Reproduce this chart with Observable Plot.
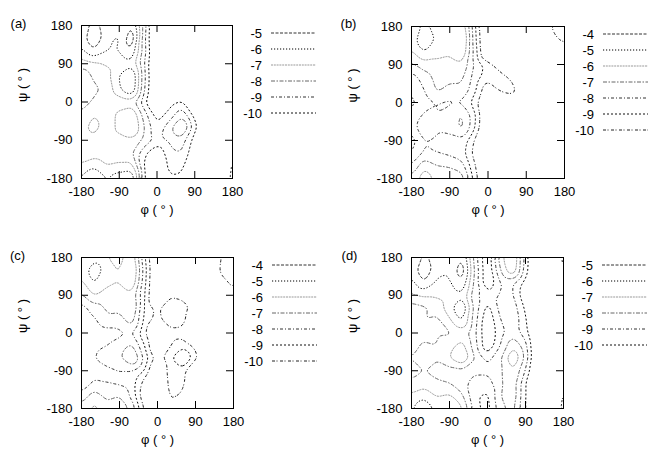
<!DOCTYPE html>
<html><head><meta charset="utf-8">
<script src="https://cdn.jsdelivr.net/npm/d3@7"></script>
<script src="https://cdn.jsdelivr.net/npm/@observablehq/plot@0.6"></script>
<style>
body{margin:0;background:#fff;}
#chart{position:relative;width:649px;height:456px;background:#fff;}
#chart svg{position:absolute;}
</style></head><body><div id="chart"></div>
<script>
// ---- data ----
const phiValues = [-180,-150,-120,-90,-60,-30,0,30,60,90,120,150,180];
const psiValues = [180,150,120,90,60,30,0,-30,-60,-90,-120,-150,-180];
const tickValues = [-180,-90,0,90,180];
const panelLabels = ["(a)","(b)","(c)","(d)"];
const xLabel = "φ ( ° )";
const yLabel = "ψ ( ° )";
const levelsA = [-5,-6,-7,-8,-9,-10];
const levelsB = [-4,-5,-6,-7,-8,-9,-10];
const levelsC = [-4,-5,-6,-7,-8,-9,-10];
const levelsD = [-5,-6,-7,-8,-9,-10];

// rows: psi 180 ... -180 ; columns: phi -180 ... 180
const gridA = [
 [-5.8,-4.5,-5.8,-5.6,-4.9,-8.6,-12,-12,-11.5,-12,-12,-12,-9.5],
 [-5.6,-4.0,-5.7,-6.2,-4.0,-8.8,-12,-12,-9.9,-12,-12,-12,-9.7],
 [-6.3,-5.1,-6.0,-6.0,-5.1,-8.6,-12,-12,-12,-12,-12,-12,-10.3],
 [-7.6,-7.2,-6.9,-6.6,-6.3,-9.0,-12,-12,-12,-12,-12,-12,-11],
 [-8.8,-7.8,-7.4,-5.9,-4.8,-8.8,-12,-12,-12,-12,-12,-12,-12],
 [-9.0,-8.2,-7.8,-6.1,-4.9,-9.0,-12,-12,-12,-12,-12,-12,-12],
 [-8.5,-7.8,-8.2,-7.8,-7.6,-9.8,-12,-10.5,-9.8,-12,-12,-12,-12],
 [-7.8,-7.0,-7.8,-6.6,-6.0,-8.5,-10.5,-9.6,-8.2,-10.5,-12,-12,-10.8],
 [-7.5,-6.4,-7.8,-6.6,-5.7,-8.0,-9.8,-8.3,-6.6,-9.6,-12,-12,-9.8],
 [-8.0,-7.5,-7.6,-7.6,-7.3,-8.3,-9.3,-8.8,-8.5,-10.5,-12,-12,-10.0],
 [-7.8,-7.5,-7.8,-7.5,-7.8,-9.8,-11,-9.2,-9.0,-11,-12,-12,-9.8],
 [-6.8,-6.2,-7.0,-6.8,-6.6,-10.2,-12,-9.5,-9.6,-12,-12,-12,-9.5],
 [-6.0,-4.8,-6.0,-5.3,-5.0,-10.0,-12,-10.2,-10.3,-12,-12,-12,-9.3]
];
const gridB = [
 [-6.0,-4.6,-5.8,-6.0,-5.2,-9.0,-12,-12,-12,-12,-12,-9.8,-9.2],
 [-5.8,-3.8,-5.3,-5.8,-4.6,-8.8,-12,-12,-12,-12,-12,-10.5,-9.5],
 [-6.2,-5.0,-5.6,-5.8,-5.0,-8.5,-12,-12,-12,-12,-12,-12,-11],
 [-7.2,-6.4,-6.3,-6.5,-6.2,-8.2,-9.4,-11,-12,-12,-12,-12,-12],
 [-8.5,-7.5,-6.6,-6.8,-6.8,-8.5,-9.5,-9.4,-10.5,-12,-12,-12,-12],
 [-9.0,-8.0,-6.8,-7.2,-7.2,-8.8,-11,-9.6,-9.5,-12,-12,-12,-12],
 [-9.3,-8.5,-8.0,-8.2,-8.2,-9.5,-12,-12,-11,-12,-12,-12,-12],
 [-9.0,-7.8,-8.0,-7.5,-6.8,-8.8,-12,-12,-12,-12,-12,-12,-12],
 [-8.8,-6.8,-7.8,-7.5,-6.7,-9.0,-12,-12,-12,-12,-12,-12,-12],
 [-9.5,-8.0,-8.3,-8.5,-8.3,-10.2,-12,-12,-12,-12,-12,-12,-12],
 [-9.2,-7.8,-8.0,-8.2,-8.6,-10.5,-12,-12,-12,-12,-12,-12,-12],
 [-8.0,-6.2,-7.0,-7.2,-7.6,-10.0,-12,-12,-12,-12,-12,-12,-10.3],
 [-6.8,-5.3,-6.3,-5.8,-6.5,-9.5,-12,-12,-12,-12,-12,-12,-9.4]
];
const gridC = [
 [-6.2,-5.4,-6.0,-6.4,-5.2,-9.0,-12,-12,-12,-12,-12,-9.9,-9.3],
 [-5.9,-4.1,-5.6,-6.1,-4.6,-8.6,-12,-12,-12,-12,-12,-9.7,-9.3],
 [-6.3,-4.9,-5.8,-6.0,-5.0,-8.8,-12,-12,-12,-12,-12,-10.5,-9.7],
 [-7.2,-5.9,-6.4,-6.8,-6.3,-9.0,-12,-10.2,-10.5,-12,-12,-12,-10.2],
 [-8.5,-7.5,-6.8,-6.8,-5.9,-9.2,-10.3,-8.9,-9.3,-10.6,-12,-12,-12],
 [-8.8,-8.2,-7.2,-7.4,-6.5,-9.4,-10.4,-9.2,-9.4,-12,-12,-12,-12],
 [-9.0,-8.8,-8.5,-8.3,-8.0,-9.9,-12,-10.5,-10.6,-12,-12,-12,-12],
 [-8.8,-8.2,-8.0,-7.6,-6.8,-9.0,-12,-10.0,-9.3,-10.4,-12,-12,-12],
 [-8.8,-8.0,-7.6,-7.2,-5.7,-8.3,-10.5,-9.2,-7.6,-9.6,-12,-12,-12],
 [-9.0,-8.4,-8.2,-8.0,-8.0,-9.0,-12,-9.3,-9.4,-12,-12,-12,-12],
 [-8.8,-7.8,-8.0,-8.2,-8.5,-10.5,-12,-9.5,-9.6,-12,-12,-12,-12],
 [-7.6,-6.4,-7.3,-7.0,-8.3,-11,-12,-9.8,-10.2,-12,-12,-12,-10.3],
 [-6.6,-5.6,-6.6,-6.2,-7.3,-10.2,-12,-10.4,-11,-12,-12,-12,-9.4]
];
const gridD = [
 [-6.2,-4.7,-5.8,-6.0,-4.9,-8.5,-11,-7.4,-5.8,-9.5,-12,-12,-9.4],
 [-5.7,-4.1,-5.7,-5.9,-4.2,-8.2,-11,-8.0,-6.0,-9.6,-12,-12,-9.6],
 [-6.4,-5.0,-6.2,-6.2,-5.1,-8.4,-11,-9.0,-8.8,-10.5,-12,-12,-10.0],
 [-7.2,-6.8,-6.8,-6.6,-6.2,-8.8,-9.6,-8.8,-8.8,-11,-12,-12,-10.8],
 [-8.5,-8.2,-7.6,-6.4,-4.8,-8.4,-10.5,-8.6,-8.4,-10.2,-12,-12,-12],
 [-8.8,-8.0,-8.3,-7.2,-5.8,-8.6,-11,-9.0,-8.2,-9.8,-12,-12,-12],
 [-8.6,-8.4,-8.1,-8.2,-7.6,-8.8,-11,-9.4,-8.4,-9.5,-12,-12,-12],
 [-8.4,-7.8,-8.0,-7.4,-6.6,-8.6,-11,-9.0,-7.2,-8.6,-12,-12,-12],
 [-8.0,-7.4,-7.9,-7.0,-5.8,-8.0,-9.4,-8.2,-5.9,-8.2,-12,-12,-12],
 [-8.4,-8.0,-8.4,-8.4,-8.3,-8.8,-8.8,-8.2,-7.0,-9.0,-12,-12,-12],
 [-7.8,-7.4,-7.8,-8.0,-8.6,-9.4,-9.4,-8.2,-7.3,-10.0,-12,-12,-10.4],
 [-6.8,-6.3,-7.1,-6.8,-7.8,-9.8,-10.3,-8.0,-7.2,-10.0,-12,-12,-9.5],
 [-6.2,-5.0,-6.3,-5.8,-6.8,-9.5,-10.5,-8.4,-7.6,-10,-12,-12,-9.3]
];

// ---- styles & layout ----
const lineStyles = [
 {stroke:"#333", dash:"3,1.5"},
 {stroke:"#000", dash:"1.2,1.8"},
 {stroke:"#999", dash:"2,0.8"},
 {stroke:"#666", dash:"4,1.5,1.5,1.5"},
 {stroke:"#333", dash:"3,2,1,2"},
 {stroke:"#111", dash:"2,2"},
 {stroke:"#222", dash:"3,1.5,1,2.5"}
];
const fontFamily = "'Liberation Sans', Arial, Helvetica, sans-serif";
const panels = [
 {grid:gridA, levels:levelsA, left:0,   top:0,   mL:81, mT:25, mR:92, mB:50, lx:-63, ly:-7},
 {grid:gridB, levels:levelsB, left:325, top:0,   mL:86, mT:26, mR:85, mB:50, lx:-63, ly:-8},
 {grid:gridC, levels:levelsC, left:0,   top:228, mL:81, mT:29, mR:91, mB:48, lx:-64, ly:-7},
 {grid:gridD, levels:levelsD, left:325, top:228, mL:86, mT:29, mR:86, mB:48, lx:-62, ly:-7}
];
const W = 324, H = 228;

function toPoints(grid){
  const pts = [];
  grid.forEach((row,i)=>row.forEach((v,j)=>pts.push({phi:phiValues[j], psi:psiValues[i], v})));
  return pts;
}

const chart = document.getElementById("chart");
panels.forEach((P, k) => {
  const fw = W - P.mL - P.mR, fh = H - P.mT - P.mB;
  const pts = toPoints(P.grid);
  const contours = P.levels.map((t,i) => Plot.contour(pts, {
    x:"phi", y:"psi", value:"v", thresholds:[t],
    interpolate:"barycentric", blur:1,
    fill:"none", stroke:lineStyles[i].stroke, strokeDasharray:lineStyles[i].dash, strokeWidth:1
  }));
  const svg = Plot.plot({
    width: W, height: H,
    marginLeft: P.mL, marginRight: P.mR, marginTop: P.mT, marginBottom: P.mB,
    style: {fontFamily, fontSize:"13px", background:"transparent", color:"black", overflow:"visible"},
    x: {domain:[-180,180]},
    y: {domain:[-180,180]},
    marks: [
      ...contours,
      Plot.frame({stroke:"black"}),
      Plot.tickX(tickValues, {x:d=>d, insetTop: fh-7, stroke:"black"}),
      Plot.tickX(tickValues, {x:d=>d, insetBottom: fh-7, stroke:"black"}),
      Plot.tickY(tickValues, {y:d=>d, insetRight: fw-7, stroke:"black"}),
      Plot.tickY(tickValues, {y:d=>d, insetLeft: fw-7, stroke:"black"}),
      Plot.axisX({ticks:tickValues, tickSize:0, tickPadding:8, tickFormat:d=>String(d), label:null, fontSize:13}),
      Plot.axisY({ticks:tickValues, tickSize:0, tickPadding:9, tickFormat:d=>String(d), label:null, fontSize:13}),
      Plot.text([xLabel], {frameAnchor:"bottom", dy:35, text:d=>d, fontSize:13}),
      Plot.text([yLabel], {frameAnchor:"left", dx:-59, rotate:-90, text:d=>d, fontSize:13}),
      Plot.text([panelLabels[k]], {frameAnchor:"top-left", dx:P.lx, dy:P.ly, text:d=>d, fontSize:13, textAnchor:"middle"})
    ]
  });
  svg.style.left = P.left + "px";
  svg.style.top = P.top + "px";
  // legend
  const g = d3.select(svg).append("g").attr("font-size", 13).attr("font-family", fontFamily);
  const xr = W - P.mR;
  P.levels.forEach((t,i) => {
    const y = P.mT + 8 + 16*i;
    g.append("text").attr("x", xr+30).attr("y", y).attr("dy","0.35em").attr("text-anchor","end").text(String(t));
    g.append("line").attr("x1", xr+39).attr("x2", xr+84).attr("y1", y).attr("y2", y)
      .attr("stroke", lineStyles[i].stroke).attr("stroke-dasharray", lineStyles[i].dash).attr("stroke-width", 1);
  });
  chart.appendChild(svg);
});
</script></body></html>
